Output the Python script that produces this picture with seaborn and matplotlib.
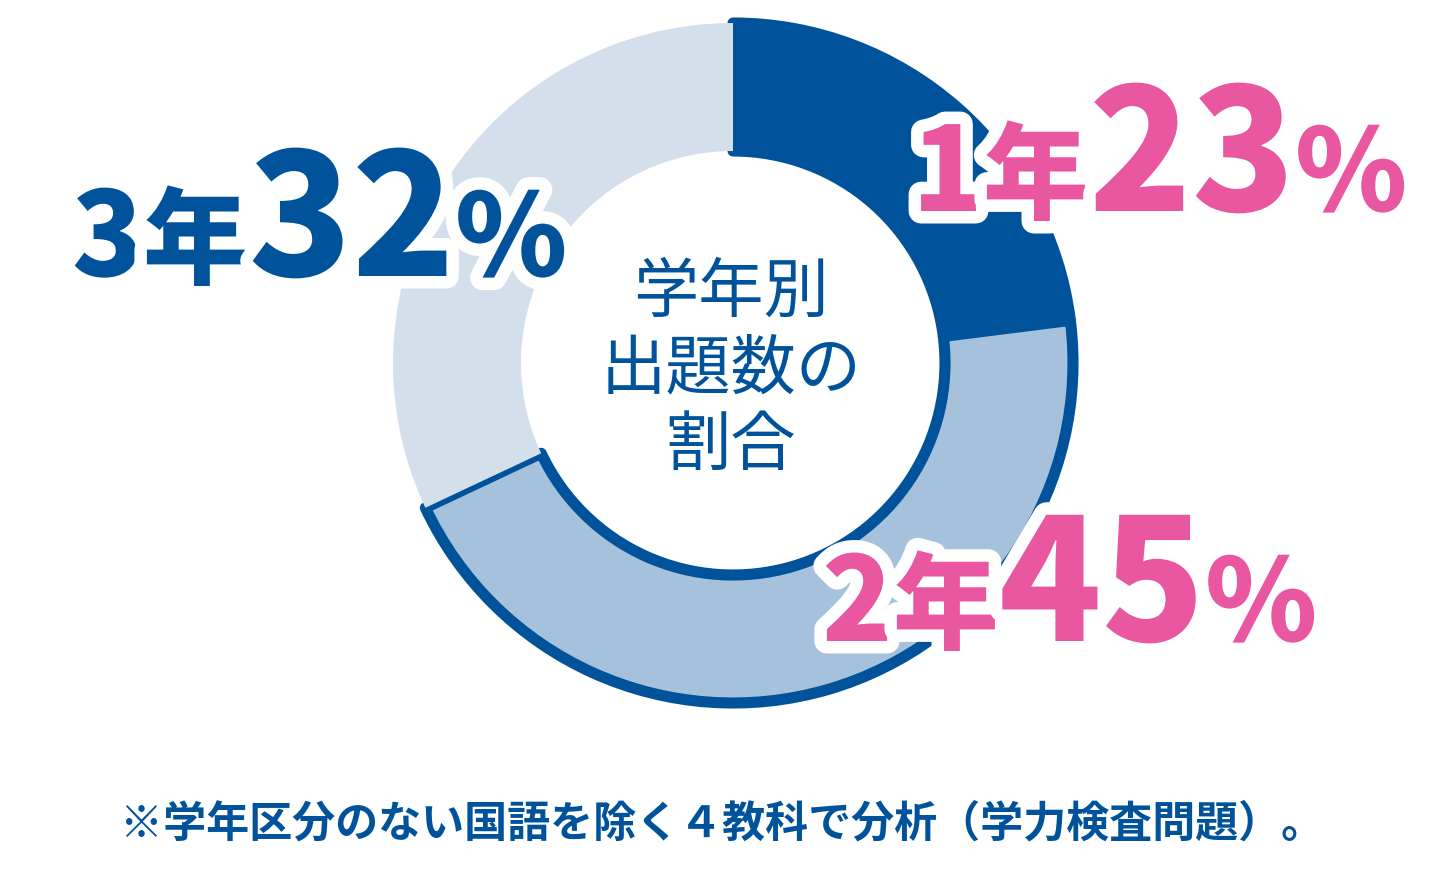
import matplotlib
matplotlib.use("Agg")
import matplotlib.pyplot as plt
import seaborn as sns
import matplotlib.patheffects as pe

sns.set_theme(style="white")
plt.rcParams['font.family'] = ['Noto Sans CJK JP', 'DejaVu Sans']

grades = ["1年", "2年", "3年"]
shares = [23, 45, 32]
fills = ["#00539a", "#a5c1db", "#d3e0ec"]
edges = ["#00539a", "#00539a", "none"]
DARK = "#00539a"
PINK = "#e8579f"

fig = plt.figure(figsize=(14.4, 8.91), dpi=100)
ax = fig.add_axes([0, 0, 1, 1])
ax.set_xlim(0, 1440)
ax.set_ylim(0, 891)
ax.set_aspect("equal")
ax.axis("off")

wedges, _ = ax.pie(shares, colors=fills, startangle=90, counterclock=False,
                   center=(733, 528), radius=340,
                   wedgeprops=dict(width=128))
for w, e in zip(wedges, edges):
    if e != "none":
        w.set_edgecolor(e)
        w.set_linewidth(8)
        w.set_joinstyle("round")
    else:
        w.set_edgecolor("none")
ax.set_xlim(0, 1440); ax.set_ylim(0, 891)

ax.text(731, 521, "学年別\n出題数の\n割合", ha="center", va="center",
        fontsize=47, color=DARK, linespacing=1.2)

ax.text(722, 68, "※学年区分のない国語を除く４教科で分析（学力検査問題）。",
        ha="center", va="center", fontsize=31, color=DARK, fontweight="bold")

fig.canvas.draw()
renderer = fig.canvas.get_renderer()

def label(x, y, grade, pct, color):
    parts = [(grade[0], 84), (grade[1], 76), (str(pct), 122), ("%", 82)]
    cx = x
    for s, size in parts:
        t = ax.text(cx, y, s, ha="left", va="baseline", fontsize=size,
                    color=color, fontweight="black",
                    path_effects=[pe.withStroke(linewidth=18, foreground="white")])
        bb = t.get_window_extent(renderer)
        cx += bb.width * 1.0

label(72, 615, grades[2], shares[2], DARK)
label(912, 680, grades[0], shares[0], PINK)
label(822, 250, grades[1], shares[1], PINK)

fig.savefig("out.png", dpi=100, facecolor="white")
